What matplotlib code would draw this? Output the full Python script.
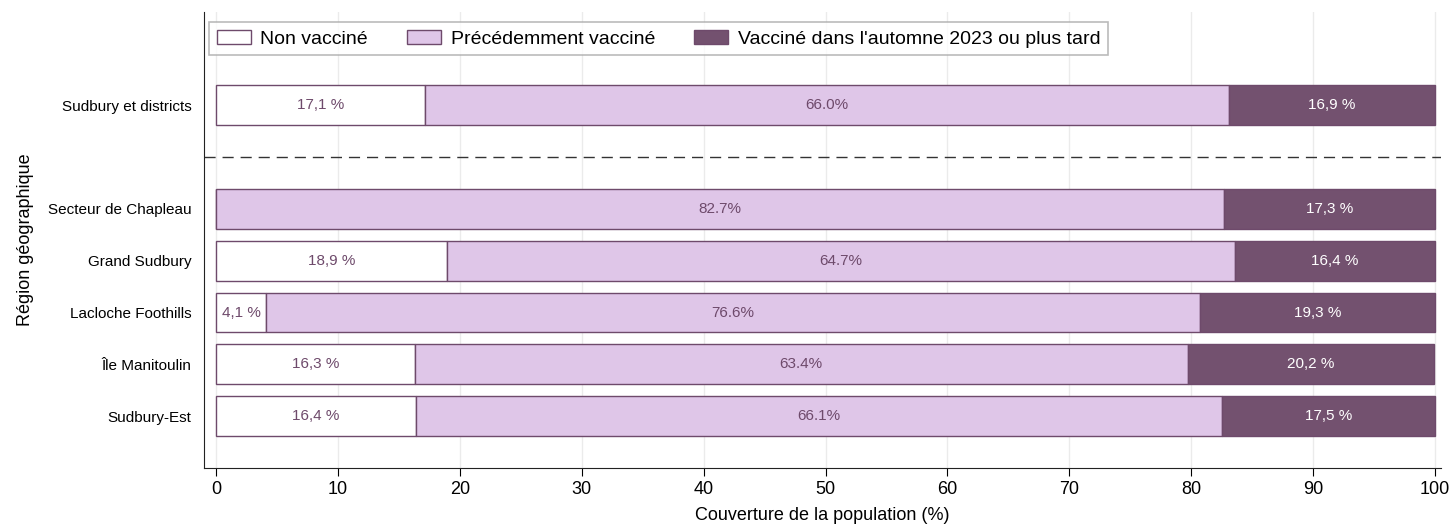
import matplotlib
matplotlib.use('Agg')
import matplotlib.pyplot as plt
from matplotlib.patches import Patch
import numpy as np

plt.rcParams['font.family'] = ['Liberation Sans', 'DejaVu Sans']

# ── Données ──
regions = ['Sudbury-Est', 'Île Manitoulin', 'Lacloche Foothills',
           'Grand Sudbury', 'Secteur de Chapleau', 'Sudbury et districts']
non_vaccine = [16.4, 16.3, 4.1, 18.9, 0.0, 17.1]
precedemment = [66.1, 63.4, 76.6, 64.7, 82.7, 66.0]
automne_2023 = [17.5, 20.2, 19.3, 16.4, 17.3, 16.9]
positions = [0, 1, 2, 3, 4, 6]
x_ticks = list(range(0, 101, 10))

COL_BLANC = '#ffffff'
COL_CLAIR = '#dfc6e8'
COL_FONCE = '#73516f'
COL_BORD = '#6e4a6b'
COL_TEXTE = '#6e4a6b'

fig = plt.figure(figsize=(14.52, 5.25), dpi=100)
ax = fig.add_axes([204 / 1452, 1 - 468 / 525, (1441 - 204) / 1452, (468 - 12) / 525])

nv = np.array(non_vaccine)
pv = np.array(precedemment)
av = np.array(automne_2023)
h = 0.77

ax.barh(positions, nv, height=h, color=COL_BLANC, edgecolor=COL_BORD, lw=1, zorder=3)
ax.barh(positions, pv, left=nv, height=h, color=COL_CLAIR, edgecolor=COL_BORD, lw=1, zorder=3)
ax.barh(positions, av, left=nv + pv, height=h, color=COL_FONCE, edgecolor=COL_BORD, lw=1, zorder=3)

for y, a, b, c in zip(positions, nv, pv, av):
    if a > 0:
        ax.text(a / 2, y, f'{a:.1f} %'.replace('.', ','), ha='center', va='center',
                fontsize=11, color=COL_TEXTE, zorder=4)
    ax.text(a + b / 2, y, f'{b:.1f}%', ha='center', va='center',
            fontsize=11, color=COL_TEXTE, zorder=4)
    ax.text(a + b + c / 2, y, f'{c:.1f} %'.replace('.', ','), ha='center', va='center',
            fontsize=11, color='white', zorder=4)

ax.axhline(5, color='#333333', lw=1, ls=(0, (8, 5)), zorder=2)

ax.set_xlim(-1, 100.5)
ax.set_ylim(-1, 7.8)
ax.set_xticks(x_ticks)
ax.set_yticks(positions)
ax.set_yticklabels(regions, fontsize=11)
ax.tick_params(axis='x', labelsize=13, length=6)
ax.tick_params(axis='y', length=0, pad=9)
ax.grid(axis='x', color='#ebebeb', lw=1, zorder=0)
ax.set_axisbelow(True)
for s in ['top', 'right']:
    ax.spines[s].set_visible(False)
ax.spines['left'].set_color('#222222')
ax.spines['bottom'].set_color('#222222')

ax.set_xlabel('Couverture de la population (%)', fontsize=13, labelpad=6)
ax.set_ylabel('Région géographique', fontsize=13, labelpad=10)

handles = [Patch(facecolor=COL_BLANC, edgecolor=COL_BORD, label='Non vacciné'),
           Patch(facecolor=COL_CLAIR, edgecolor=COL_BORD, label='Précédemment vacciné'),
           Patch(facecolor=COL_FONCE, edgecolor=COL_BORD, label="Vacciné dans l'automne 2023 ou plus tard")]
leg = ax.legend(handles=handles, ncol=3, loc='upper left', bbox_to_anchor=(0.004, 0.978),
                fontsize=14, frameon=True, fancybox=False, edgecolor='#aaaaaa',
                handlelength=1.75, handleheight=0.72, columnspacing=2.0,
                borderpad=0.4, handletextpad=0.5, borderaxespad=0)
leg.get_frame().set_linewidth(1.2)

fig.savefig('out.png', dpi=100, facecolor='white')
